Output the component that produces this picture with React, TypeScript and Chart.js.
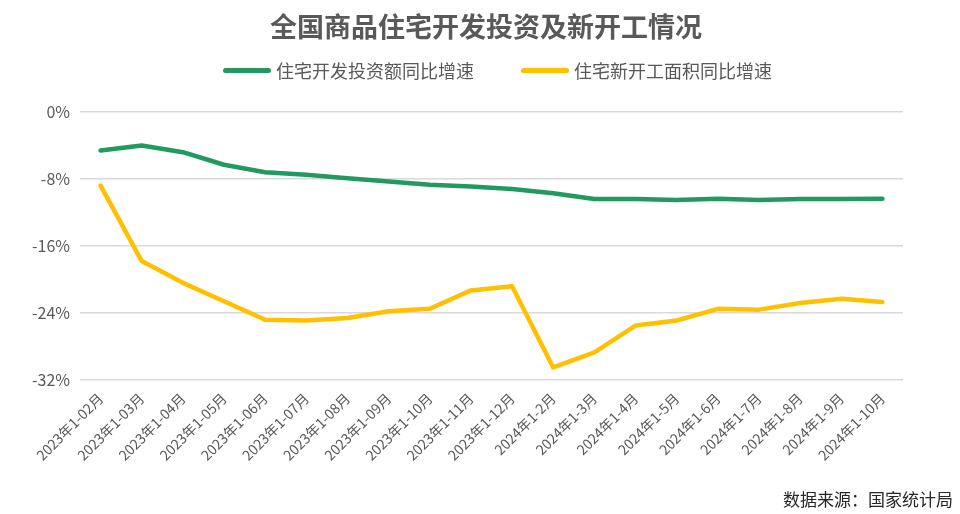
import React, { useEffect, useRef } from "react";
import { Chart, registerables } from "chart.js";

Chart.register(...registerables);

const TITLE = "全国商品住宅开发投资及新开工情况";
const SOURCE = "数据来源：国家统计局";
const SERIES_NAMES = ["住宅开发投资额同比增速", "住宅新开工面积同比增速"];
const SERIES_COLORS = ["#229A5F", "#FFC000"];

const categories = [
  "2023年1-02月", "2023年1-03月", "2023年1-04月", "2023年1-05月", "2023年1-06月",
  "2023年1-07月", "2023年1-08月", "2023年1-09月", "2023年1-10月", "2023年1-11月",
  "2023年1-12月", "2024年1-2月", "2024年1-3月", "2024年1-4月", "2024年1-5月",
  "2024年1-6月", "2024年1-7月", "2024年1-8月", "2024年1-9月", "2024年1-10月",
];

const investmentGrowth = [
  -4.6, -4.0, -4.8, -6.3, -7.2, -7.5, -7.9, -8.3, -8.7, -8.9,
  -9.2, -9.7, -10.4, -10.4, -10.5, -10.35, -10.5, -10.4, -10.4, -10.35,
];

const newStartsGrowth = [
  -8.8, -17.8, -20.4, -22.6, -24.8, -24.9, -24.6, -23.8, -23.5, -21.3,
  -20.8, -30.5, -28.7, -25.5, -24.9, -23.5, -23.6, -22.8, -22.3, -22.7,
];

const yTicks = [0, -8, -16, -24, -32];

const FONT = "'Noto Sans CJK SC', 'Noto Sans', sans-serif";

export default function App() {
  const ref = useRef<HTMLCanvasElement | null>(null);

  useEffect(() => {
    if (!ref.current) return;
    const chart = new Chart(ref.current, {
      type: "line",
      data: {
        labels: categories,
        datasets: [
          {
            label: SERIES_NAMES[0],
            data: investmentGrowth,
            borderColor: SERIES_COLORS[0],
            backgroundColor: SERIES_COLORS[0],
            borderWidth: 4.5,
            pointRadius: 0,
            tension: 0,
            borderJoinStyle: "round",
            borderCapStyle: "round",
          },
          {
            label: SERIES_NAMES[1],
            data: newStartsGrowth,
            borderColor: SERIES_COLORS[1],
            backgroundColor: SERIES_COLORS[1],
            borderWidth: 4.5,
            pointRadius: 0,
            tension: 0,
            borderJoinStyle: "round",
            borderCapStyle: "round",
          },
        ],
      },
      options: {
        responsive: false,
        animation: false,
        layout: { padding: { top: 112, right: 57, bottom: 0, left: 0 } },
        plugins: {
          legend: { display: false },
          title: { display: false },
          tooltip: { enabled: false },
        },
        scales: {
          x: {
            type: "category",
            offset: true,
            grid: { display: false },
            border: { display: false },
            afterFit: (s: any) => {
              s.height = 134;
            },
            ticks: {
              color: "#595959",
              font: { family: FONT, size: 14 },
              minRotation: 45,
              maxRotation: 45,
              autoSkip: false,
              padding: 2,
            },
          },
          y: {
            min: -32,
            max: 0,
            afterFit: (s: any) => {
              s.width = 80;
            },
            afterBuildTicks: (s: any) => {
              s.ticks = yTicks.map((v) => ({ value: v }));
            },
            grid: { color: "#D9D9D9", lineWidth: 1.5, drawTicks: false },
            border: { display: false },
            ticks: {
              color: "#595959",
              font: { family: FONT, size: 16 },
              padding: 10,
              callback: (v: any) => `${v}%`,
            },
          },
        },
      },
    });
    return () => chart.destroy();
  }, []);

  return (
    <div
      style={{
        position: "fixed",
        left: 0,
        top: 0,
        width: 960,
        height: 514,
        background: "#fff",
        fontFamily: FONT,
      }}
    >
      <canvas ref={ref} width={960} height={514} style={{ position: "absolute", left: 0, top: 0 }} />
      <div
        style={{
          position: "absolute",
          left: 486,
          top: 12,
          transform: "translateX(-50%)",
          whiteSpace: "nowrap",
          fontSize: 27,
          lineHeight: "28px",
          fontWeight: 700,
          color: "#595959",
        }}
      >
        {TITLE}
      </div>
      {[0, 1].map((i) => (
        <div
          key={i}
          style={{
            position: "absolute",
            left: i === 0 ? 223 : 521,
            top: 58,
            height: 24,
            display: "flex",
            alignItems: "center",
            whiteSpace: "nowrap",
          }}
        >
          <span
            style={{
              display: "inline-block",
              width: 48,
              height: 5,
              borderRadius: 3,
              background: SERIES_COLORS[i],
              marginRight: 5,
            }}
          />
          <span style={{ fontSize: 18, color: "#595959", lineHeight: "24px" }}>{SERIES_NAMES[i]}</span>
        </div>
      ))}
      <div
        style={{
          position: "absolute",
          right: 7,
          top: 488,
          fontSize: 17,
          lineHeight: "22px",
          color: "#262626",
          whiteSpace: "nowrap",
        }}
      >
        {SOURCE}
      </div>
    </div>
  );
}
